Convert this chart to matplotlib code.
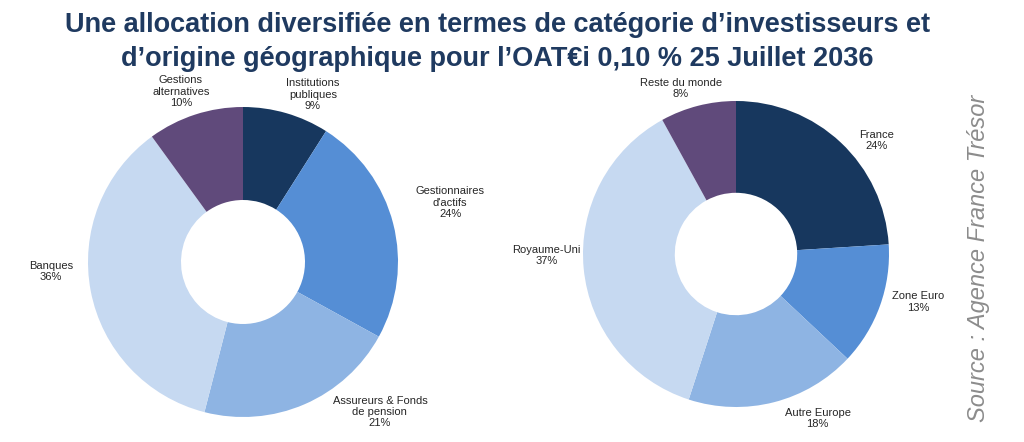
import numpy as np
import matplotlib
matplotlib.use("Agg")
import matplotlib.pyplot as plt

# ---- data ----
inv_labels = ["Institutions\npubliques", "Gestionnaires\nd'actifs", "Assureurs & Fonds\nde pension",
              "Banques", "Gestions\nalternatives"]
inv_values = [9, 24, 21, 36, 10]
geo_labels = ["France", "Zone Euro", "Autre Europe", "Royaume-Uni", "Reste du monde"]
geo_values = [24, 13, 18, 37, 8]
colors = ["#17375E", "#558ED5", "#8EB4E3", "#C6D9F1", "#604A7B"]

title = ("Une allocation diversifiée en termes de catégorie d’investisseurs et\n"
         "d’origine géographique pour l’OAT€i 0,10 % 25 Juillet 2036")
source = "Source : Agence France Trésor"

# ---- layout (styles) ----
W, H = 1024, 442
fig = plt.figure(figsize=(W / 100, H / 100), dpi=100)
fig.patch.set_facecolor("white")

lab_font = dict(family=["Liberation Sans", "DejaVu Sans"], size=8, color="#262626")


def donut(cx, cy, rpx, values, labels, dists, angle_shift):
    box = 420
    ax = fig.add_axes([(cx - box / 2) / W, (H - cy - box / 2) / H, box / W, box / H])
    wedges, _ = ax.pie(values, colors=colors, startangle=90, counterclock=False,
                       radius=1.0, wedgeprops=dict(width=0.6, linewidth=0))
    lim = box / 2 / rpx
    ax.set_xlim(-lim, lim)
    ax.set_ylim(-lim, lim)
    ax.set_aspect("equal")
    ax.axis("off")
    for w, lab, v, d, sh in zip(wedges, labels, values, dists, angle_shift):
        ang = np.deg2rad((w.theta1 + w.theta2) / 2 + sh)
        ax.text(d * np.cos(ang), d * np.sin(ang), f"{lab}\n{v}%",
                ha="center", va="center", linespacing=1.15, **lab_font)
    return ax


donut(243, 262, 155, inv_values, inv_labels,
      dists=[1.17, 1.39, 1.31, 1.24, 1.17], angle_shift=[-6.5, 1.6, 19, -8, 2])
donut(736, 254, 153, geo_values, geo_labels,
      dists=[1.18, 1.23, 1.2, 1.24, 1.14], angle_shift=[-8, 5, 12, -5, 4])

fig.text(0.486, 0.972, title, ha="center", va="top", fontsize=19.5, fontweight="bold",
         color="#1F3A60", linespacing=1.38,
         family=["Liberation Sans", "DejaVu Sans"])

fig.text(978 / W, 1 - 258 / H, source, rotation=90, ha="center", va="center",
         fontsize=17, style="italic", color="#8C8C8C",
         family=["Liberation Sans", "DejaVu Sans"])

fig.savefig("out.png", dpi=100, facecolor="white")
